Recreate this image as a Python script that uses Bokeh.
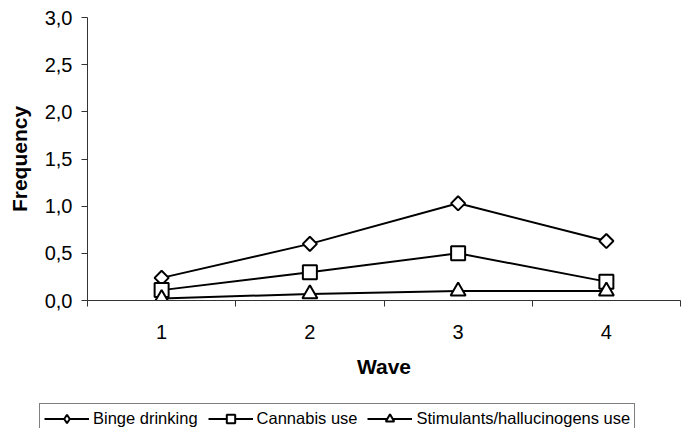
import numpy as np
from bokeh.plotting import figure
from bokeh.models import FixedTicker, Range1d, Legend, LegendItem
from bokeh.embed import file_html
from bokeh.resources import INLINE

waves = [1, 2, 3, 4]
wave_labels = ["1", "2", "3", "4"]
binge = [0.24, 0.60, 1.03, 0.63]
cannabis = [0.11, 0.30, 0.50, 0.20]
stimulants = [0.02, 0.07, 0.10, 0.10]
series_names = ["Binge drinking", "Cannabis use", "Stimulants/hallucinogens use"]
y_ticks = [0.0, 0.5, 1.0, 1.5, 2.0, 2.5, 3.0]
y_tick_labels = ["0,0", "0,5", "1,0", "1,5", "2,0", "2,5", "3,0"]
x_bounds = [0.5, 1.5, 2.5, 3.5, 4.5]

FONT = "Liberation Sans"

p = figure(width=685, height=402, output_backend="svg", toolbar_location=None,
           x_range=Range1d(0.5, 4.5), y_range=Range1d(0, 3.0),
           min_border_left=87, min_border_right=5, min_border_top=17,
           min_border_bottom=102)
p.outline_line_color = None
p.grid.grid_line_color = None
p.background_fill_color = "white"
p.border_fill_color = "white"

# x axis
xa = p.xaxis[0]
xa.ticker = FixedTicker(ticks=waves, minor_ticks=x_bounds)
xa.major_label_overrides = {w: l for w, l in zip(waves, wave_labels)}
xa.major_tick_out = 0
xa.major_tick_in = 0
xa.minor_tick_out = 6
xa.minor_tick_in = 0
xa.minor_tick_line_color = "#333333"
xa.axis_line_color = "#333333"
xa.major_label_text_font = FONT
xa.major_label_text_font_size = "20px"
xa.major_label_text_color = "black"
xa.major_label_standoff = 18
xa.axis_label = "Wave"
xa.axis_label_text_font = FONT
xa.axis_label_text_font_style = "bold"
xa.axis_label_text_font_size = "21px"
xa.axis_label_text_color = "black"
xa.axis_label_standoff = 13

# y axis
ya = p.yaxis[0]
ya.ticker = FixedTicker(ticks=y_ticks, minor_ticks=[])
ya.major_label_overrides = {t: l for t, l in zip(y_ticks, y_tick_labels)}
ya.major_tick_out = 6
ya.major_tick_in = 0
ya.major_tick_line_color = "#333333"
ya.axis_line_color = "#333333"
ya.major_label_text_font = FONT
ya.major_label_text_font_size = "20px"
ya.major_label_text_color = "black"
ya.major_label_standoff = 9
ya.axis_label = "Frequency"
ya.axis_label_text_font = FONT
ya.axis_label_text_font_style = "bold"
ya.axis_label_text_font_size = "21px"
ya.axis_label_text_color = "black"
ya.axis_label_standoff = 11

# legend strip: its own small figure (separate root) so the legend sits inside a frame
lg = figure(width=685, height=26, output_backend="svg", toolbar_location=None,
            x_range=Range1d(10, 11), y_range=Range1d(10, 11),
            x_axis_type=None, y_axis_type=None,
            min_border_left=38, min_border_right=0, min_border_top=0, min_border_bottom=0)
lg.outline_line_color = None
lg.grid.grid_line_color = None

items = []
marker_specs = [("square", np.pi / 4, 10), ("square", 0.0, 14), ("triangle", 0.0, 15)]
legend_markers = ["diamond", "square", "triangle"]
for vals, name, (mk, ang, sz), lmk in zip([binge, cannabis, stimulants], series_names,
                                          marker_specs, legend_markers):
    p.line(waves, vals, line_color="black", line_width=2)
    p.scatter(waves, vals, marker=mk, angle=ang, size=sz, fill_color="white",
              line_color="black", line_width=2)
    lr = lg.line(waves, vals, line_color="black", line_width=2)
    sr = lg.scatter(waves, vals, marker=lmk, size=sz, fill_color="white",
                    line_color="black", line_width=2)
    items.append(LegendItem(label=name, renderers=[lr, sr]))

legend = Legend(items=items, orientation="horizontal", location="top_left",
                glyph_width=45, glyph_height=21, label_height=21, label_standoff=4,
                spacing=10, padding=4, margin=1,
                label_text_font=FONT, label_text_font_size="16.5px", label_text_color="black",
                border_line_color="black", border_line_width=1,
                background_fill_color="white", background_fill_alpha=1.0)
lg.add_layout(legend)

open("out.html", "w").write(file_html([p, lg], INLINE))
